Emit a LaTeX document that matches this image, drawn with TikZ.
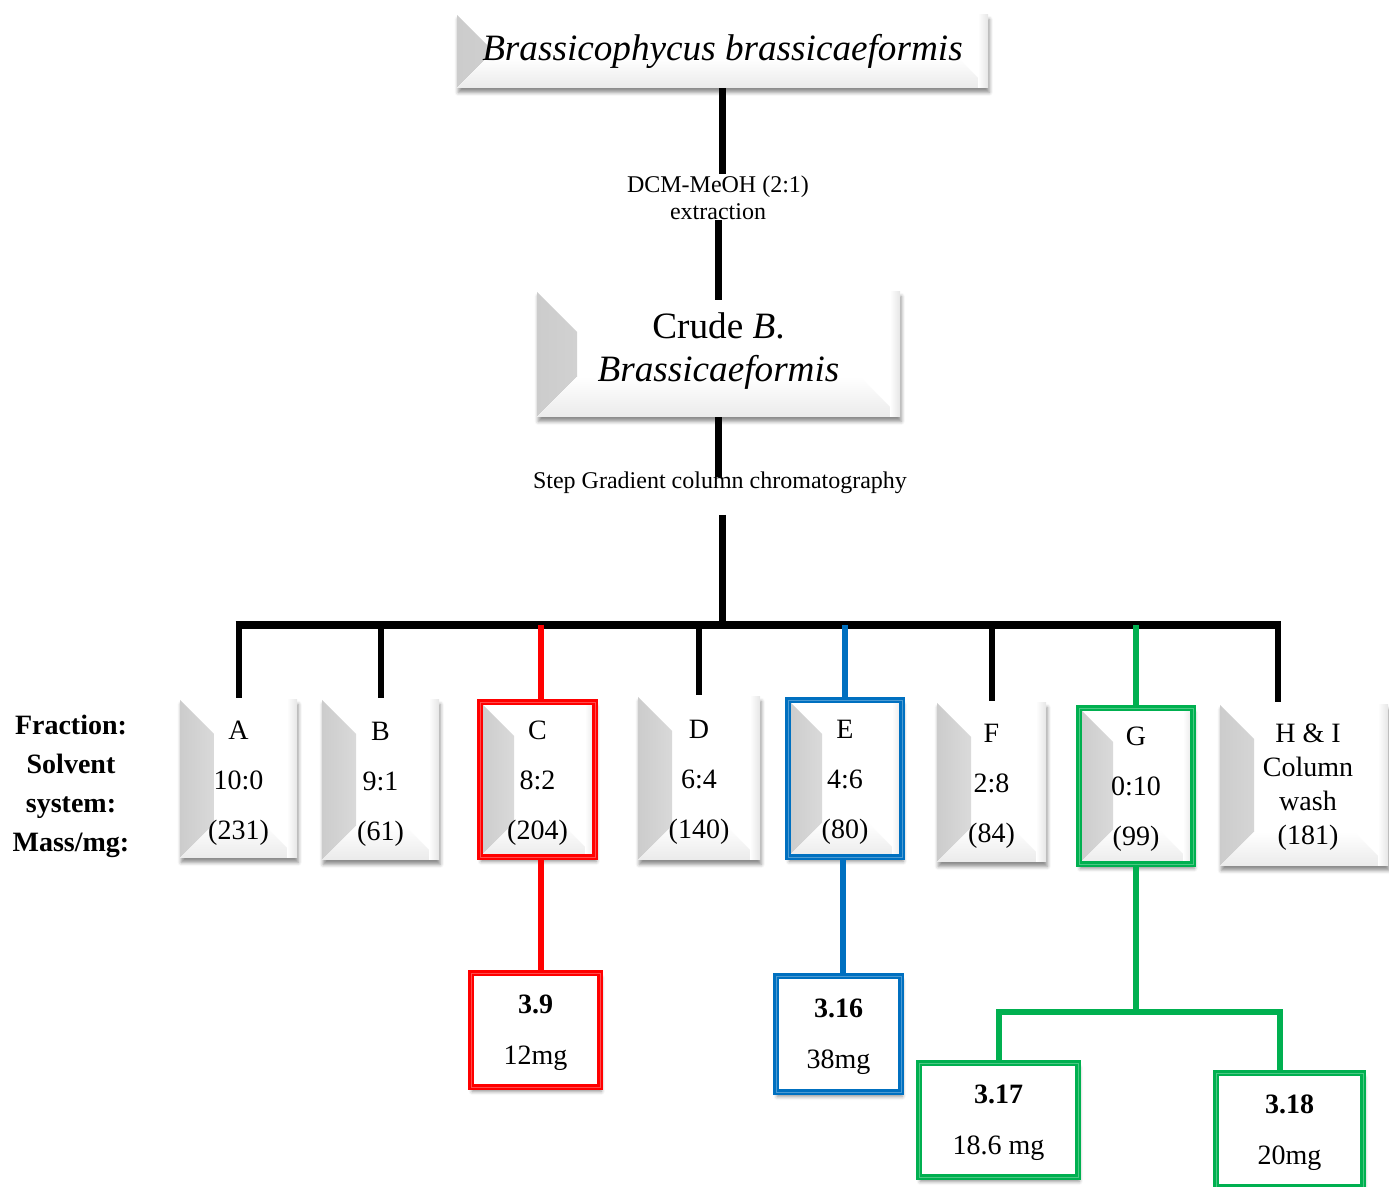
\documentclass[tikz,border=0pt]{standalone}
\usepackage{fontspec}
\setmainfont{Liberation Serif}
\usetikzlibrary{calc,shadows.blur}

\definecolor{cred}{RGB}{255,0,0}
\definecolor{cblue}{RGB}{0,112,192}
\definecolor{cgreen}{RGB}{0,176,80}

\tikzset{
  softshadow/.style={blur shadow={shadow xshift=0.6pt, shadow yshift=-2.2pt,
      shadow blur radius=1.8pt, shadow opacity=45}},
  bevelbox/.style={fill=white, inner sep=0pt, softshadow,
    path picture={
      \fill[left color=black!20, right color=black!2]
        (path picture bounding box.north west) -- ++(#1,-#1)
        -- ($(path picture bounding box.south west)+(#1,#1)$)
        -- (path picture bounding box.south west) -- cycle;
      \fill[bottom color=black!8, top color=white]
        (path picture bounding box.south west) -- ++(#1,#1)
        -- ($(path picture bounding box.south east)+(-#1,#1)$)
        -- (path picture bounding box.south east) -- cycle;
      \fill[left color=white, right color=black!10]
        ($(path picture bounding box.north east)+(-5pt,0)$)
        rectangle (path picture bounding box.south east);
    }},
  bevelbox/.default=17pt,
  rimmed/.style={draw=#1, double=#1!70!white, line width=1.3pt, double distance=0.4pt},
  resultbox/.style={fill=white, inner sep=0pt, softshadow, rimmed=#1},
  trunk/.style={line width=3.5pt, black},
  branch/.style={line width=3pt, black},
  cbranch/.style={line width=3pt, #1},
  bigtext/.style={font=\fontsize{18.6}{21.5}\selectfont, align=center},
  steptext/.style={font=\fontsize{12}{13.5}\selectfont, align=center, inner sep=1pt},
  fractext/.style={font=\fontsize{14}{25}\selectfont, align=center},
  washtext/.style={font=\fontsize{14}{17}\selectfont, align=center},
  restext/.style={font=\fontsize{14}{25.5}\selectfont, align=center},
}

\begin{document}
\begin{tikzpicture}[x=0.5pt,y=-0.5pt]
\useasboundingbox (0,0) rectangle (1389,1187);

% source organism and crude extract
\node[bevelbox=15pt, minimum width=265.5pt, minimum height=36.5pt] (alga) at (722.5,51.5) {};
\node[bigtext] (algat) at (alga.center) {\itshape Brassicophycus brassicaeformis};
\node[steptext] (extr) at (718,198) {DCM-MeOH (2:1)\\extraction};
\node[bevelbox=20pt, minimum width=181.5pt, minimum height=62.5pt] (crude) at (718.5,354.5) {};
\node[bigtext] (crudet) at ([yshift=1.5pt]crude.center) {Crude \textit{B}.\\\textit{Brassicaeformis}};
\node[steptext] (sgcc) at (720,483) {Step Gradient column chromatography};

% row labels
\node[font=\fontsize{14}{19.5}\selectfont\bfseries, align=center] (rowlab) at (71,786)
  {Fraction:\\Solvent\\system:\\Mass/mg:};

% fractions
\node[bevelbox, minimum width=58.5pt, minimum height=79pt] (A) at (238.5,779) {};
\node[bevelbox, minimum width=58.5pt, minimum height=80pt] (B) at (380.5,780) {};
\node[bevelbox, rimmed=cred, minimum width=57.5pt, minimum height=77.5pt] (C) at (537.5,779.5) {};
\node[bevelbox, minimum width=61pt, minimum height=81.5pt] (D) at (699,778.5) {};
\node[bevelbox, rimmed=cblue, minimum width=57pt, minimum height=78.5pt] (E) at (845,778.5) {};
\node[bevelbox, minimum width=54.5pt, minimum height=79.5pt] (F) at (991.5,782.5) {};
\node[bevelbox, rimmed=cgreen, minimum width=57pt, minimum height=78pt] (G) at (1136,786) {};
\node[bevelbox, minimum width=84pt, minimum height=80.5pt] (H) at (1304,785.5) {};

\node[fractext] (At) at ([yshift=-2pt]A.center) {A\\10:0\\(231)};
\node[fractext] (Bt) at ([yshift=-2pt]B.center) {B\\9:1\\(61)};
\node[fractext] (Ct) at ([yshift=-2pt]C.center) {C\\8:2\\(204)};
\node[fractext] (Dt) at ([yshift=-2pt]D.center) {D\\6:4\\(140)};
\node[fractext] (Et) at ([yshift=-2pt]E.center) {E\\4:6\\(80)};
\node[fractext] (Ft) at ([yshift=-2pt]F.center) {F\\2:8\\(84)};
\node[fractext] (Gt) at ([yshift=-1.5pt]G.center) {G\\0:10\\(99)};
\node[washtext] (Ht) at ([xshift=2pt,yshift=-1pt]H.center) {H \& I\\Column\\wash\\(181)};

% isolated compounds
\node[resultbox=cred, minimum width=64.5pt, minimum height=57pt] (r39) at (535.5,1030) {};
\node[resultbox=cblue, minimum width=62.5pt, minimum height=58pt] (r316) at (838.5,1034) {};
\node[resultbox=cgreen, minimum width=79.5pt, minimum height=57pt] (r317) at (998.5,1120) {};
\node[resultbox=cgreen, minimum width=73.5pt, minimum height=57pt] (r318) at (1289.5,1130) {};

\node[restext] (r39t) at ([yshift=-1.3pt]r39.center) {\textbf{3.9}\\12mg};
\node[restext] (r316t) at ([yshift=-1.3pt]r316.center) {\textbf{3.16}\\38mg};
\node[restext] (r317t) at ([yshift=-1.3pt]r317.center) {\textbf{3.17}\\18.6 mg};
\node[restext] (r318t) at ([yshift=-1.3pt]r318.center) {\textbf{3.18}\\20mg};

% junction points
\coordinate (cut1) at (720,477);
\coordinate (cut2) at (722,515);
\coordinate (hub) at (722,625);
\coordinate (hbr) at (1278,702);
\coordinate (gsplit) at (1136,1012);

% main trunk
\draw[trunk] (alga.south) -- (alga.south |- extr.north);
\draw[trunk] ([yshift=1pt]extr.south) -- ([yshift=-4pt]extr.south |- crude.north);
\draw[trunk] (crude.south) -- (crude.south |- cut1);
\draw[trunk] (cut2) -- (hub);
\draw[line width=4pt] ([xshift=-1.5pt]A.north |- hub) -- ([xshift=1.5pt]hbr |- hub);

% black branches
\foreach \f in {A,B,D,F}
  \draw[branch] (\f.north |- hub) -- ([yshift=1pt]\f.north);
\draw[branch] (hbr |- hub) -- (hbr);

% coloured branches
\draw[cbranch=cred] ([xshift=1.5pt]C.north |- hub) -- ([xshift=1.5pt]C.north);
\draw[cbranch=cblue] (E.north |- hub) -- (E.north);
\draw[cbranch=cgreen] (G.north |- hub) -- (G.north);

\draw[cbranch=cred] ([xshift=1.5pt]C.south) -- ([xshift=1.5pt]C.south |- r39.north);
\draw[cbranch=cblue] ([xshift=-1pt]E.south) -- ([xshift=-1pt]E.south |- r316.north);
\draw[cbranch=cgreen] (G.south) -- (gsplit);
\draw[cbranch=cgreen] (r317.north) |- (gsplit) -| ([xshift=-5pt]r318.north);

\end{tikzpicture}
\end{document}
